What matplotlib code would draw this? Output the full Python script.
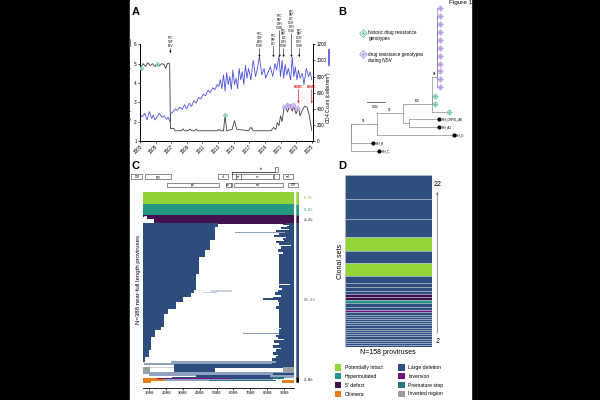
import matplotlib
matplotlib.use("Agg")
import matplotlib.pyplot as plt
from matplotlib.patches import Rectangle

plt.rcParams['font.family'] = ['Liberation Sans', 'DejaVu Sans']

W, H = 600, 400

# ---------------- panel A data ----------------
vl_years = [2003.1, 2003.4, 2003.7, 2004.0, 2004.3, 2004.6, 2004.9, 2005.2, 2005.5, 2005.8,
            2006.1, 2006.3, 2006.5, 2006.8, 2006.9, 2007.3, 2007.5, 2008.3, 2008.5, 2008.7,
            2009.2, 2009.4, 2009.6, 2010.0, 2010.2, 2010.4, 2012.9, 2013.1, 2013.3, 2013.7,
            2013.9, 2014.1, 2014.8, 2015.1, 2015.4, 2016.9, 2017.2, 2017.5, 2019.8, 2020.1,
            2020.4, 2020.6, 2020.8, 2021.0, 2021.2, 2021.4, 2021.6, 2021.9, 2022.2, 2022.5,
            2022.7, 2023.0, 2023.3, 2023.5, 2023.8, 2024.1, 2024.4, 2024.7, 2025.0]
vl_log = [4.8, 5.0, 4.85, 5.05, 4.9, 5.0, 4.85, 4.97, 4.9, 5.0,
          4.95, 4.75, 5.0, 5.0, 1.65, 1.65, 1.53, 1.53, 1.63, 1.53,
          1.53, 1.62, 1.53, 1.53, 1.62, 1.53, 1.53, 1.6, 1.53, 1.53,
          2.35, 1.53, 1.6, 2.05, 1.6, 1.53, 1.71, 1.53, 1.53, 1.7,
          1.6, 1.95, 1.8, 2.3, 2.0, 2.6, 2.8, 2.5, 2.85, 2.55,
          2.8, 2.4, 2.75, 2.3, 2.6, 2.8, 2.75, 2.3, 1.55]

cd4_years = [2003.1, 2003.3, 2003.6, 2003.9, 2004.2, 2004.5, 2004.7, 2004.9, 2005.2, 2005.5,
             2005.8, 2006.1, 2006.4, 2006.6, 2006.85, 2006.95, 2007.2, 2007.5, 2007.8, 2008.1,
             2008.4, 2008.7, 2009.0, 2009.3, 2009.6, 2009.9, 2010.2, 2010.5, 2010.8, 2011.1,
             2011.4, 2011.7, 2012.0, 2012.3, 2012.6, 2012.9, 2013.1, 2013.3, 2013.5, 2013.7,
             2013.9, 2014.1, 2014.3, 2014.5, 2014.7, 2014.9, 2015.1, 2015.3, 2015.5, 2015.7,
             2015.9, 2016.1, 2016.3, 2016.5, 2016.7, 2016.9, 2017.2, 2017.5, 2017.8, 2018.0,
             2018.3, 2018.6, 2018.9, 2019.1, 2019.4, 2019.7, 2020.0, 2020.3, 2020.5, 2020.8,
             2021.0, 2021.2, 2021.4, 2021.6, 2021.8, 2022.0, 2022.3, 2022.5, 2022.7, 2022.9,
             2023.1, 2023.3, 2023.5, 2023.8, 2024.0, 2024.3, 2024.6, 2024.8, 2025.0]
cd4_count = [320, 302, 343, 261, 364, 281, 323, 261, 302, 343,
             294, 314, 269, 294, 240, 343, 360, 400, 380, 420,
             390, 450, 400, 470, 430, 500, 470, 540, 520, 580,
             560, 630, 600, 660, 640, 700, 680, 760, 650, 820,
             620, 850, 700, 800, 640, 880, 700, 780, 650, 900,
             760, 860, 700, 940, 780, 900, 760, 1000, 800, 880,
             1050, 820, 900, 780, 850, 920, 800, 960, 880, 1050,
             800, 1000, 780, 950, 820, 900, 760, 1040, 800, 920,
             760, 880, 780, 840, 700, 900, 800, 860, 760]

hist_years = [2003.1, 2005.2, 2013.9]
hist_vl = [4.8, 4.97, 2.35]
nsv_years = [2021.5, 2021.85, 2022.25, 2022.6, 2023.1]
nsv_vl = [2.78, 2.85, 2.8, 2.85, 2.7]

drug_years = [2006.9, 2018.3, 2020.1, 2020.9, 2021.4, 2022.4, 2023.4]
drug_labels = ["FTC\nTDF\nEFV", "FTC\nTDF\nEVG\nCOBI", "FTC\nTAF\nBIC",
               "FTC\nTAF\nDRV\nCOBI", "FTC\nTAF\nBIC\nDRV\nCOBI",
               "FTC\nTAF\nBIC\nDOR\nDRV\nCOBI", "FTC\nTAF\nDOR\nDRV\nCOBI"]
drug_label_base = [5.78, 5.78, 5.89, 6.71, 5.78, 6.56, 5.78]
drug_arrow_tip = [5.55, 5.34, 5.34, 5.34, 5.34, 5.34, 5.34]
pbmc_years = [2023.3, 2025.0]

# ---------------- panel B data (tree) ----------------
# name: (parent, distance from root, row)
tree_nodes = {
    'root': (None, 0.0, 14.65),
    'n1': ('root', 0.028, 14.65),
    'Ref_B': ('root', 0.024, 17),
    'Ref_C': ('root', 0.031, 18),
    'n2': ('n1', 0.057, 13.27),
    'Ref_D': ('n1', 0.112, 16),
    'n3': ('n2', 0.088, 12.1),
    'n5': ('n2', 0.063, 14.5),
    'Ref_CRF01_AE': ('n5', 0.096, 14),
    'Ref_A1': ('n5', 0.096, 15),
    'hist1': ('n3', 0.092, 11.1),
    'hist2': ('n3', 0.092, 12.1),
    'hist3': ('n3', 0.107, 13.06),
    'n4': ('n3', 0.0935, 8.65),
    'nsv1': ('n4', 0.0975, 0), 'nsv2': ('n4', 0.0975, 1), 'nsv3': ('n4', 0.0975, 2),
    'nsv4': ('n4', 0.0975, 3), 'nsv5': ('n4', 0.0975, 4), 'nsv6': ('n4', 0.0975, 5),
    'nsv7': ('n4', 0.0975, 6), 'nsv8': ('n4', 0.0975, 7), 'nsv9': ('n4', 0.0975, 8),
    'nsv10': ('n4', 0.0975, 9), 'nsv11': ('n4', 0.0975, 10),
}
ref_leaves = ['Ref_CRF01_AE', 'Ref_A1', 'Ref_D', 'Ref_B', 'Ref_C']
hist_leaves = ['hist1', 'hist2', 'hist3']
nsv_leaves = ['nsv%d' % i for i in range(1, 12)]
bootstrap = {'n1': '99', 'n2': '99', 'n3': '100', 'n4': '94'}

# ---------------- panel C data ----------------
genes_row2 = [("LTR", 1, 634), ("gag", 790, 2292), ("vif", 5041, 5619), ("", 5860, 6060),
              ("tat", 6062, 6400), ("rev", 6400, 8250), ("", 8320, 8590), ("nef", 8797, 9417)]
genes_row3 = [("pol", 2085, 5096), ("vpr", 5500, 5780), ("", 5800, 5870),
              ("env", 5950, 8795), ("LTR", 9086, 9719)]
tat_exon2 = (8380, 8530)

GEN_START, GEN_END = 646, 9611
n_intact = 27
n_hyper = 21
five_prime_groups = [(2, 646), (4, 900), (11, 1330)]   # rows, end of 5' deletion
# rows, deletion start, deletion end
large_del = [
    (2, 5050, 9150), (1, 5050, 8950), (2, 5050, 9300), (1, 5050, 9450),
    (3, 4850, 9200), (2, 4850, 8860), (4, 4850, 9350), (2, 4850, 8560), (3, 4850, 9060),
    (2, 4850, 8760), (3, 4850, 9450), (2, 4850, 8460), (3, 4850, 9150), (3, 4850, 8960),
    (3, 4600, 9000), (2, 4600, 8560), (3, 4600, 9250), (2, 4600, 8760), (4, 4600, 9450),
    (3, 4600, 8860), (3, 4600, 9100),
    (3, 4300, 8660), (4, 4300, 9300), (3, 4300, 8960), (4, 4300, 8760),
    (8, 3950, 8760), (2, 3950, 9150), (6, 3950, 8760), (3, 3950, 9350), (9, 3950, 8760),
    (2, 3950, 8960), (4, 3950, 8760),
    (5, 3770, 8760), (2, 3770, 9250), (7, 3770, 8760), (2, 3770, 9050), (6, 3770, 8760),
    (3, 3770, 9400), (5, 3770, 8760), (4, 3770, 8900),
    (2, 3600, 9150), (2, 3600, 8660), (2, 3600, 9400),
    (3, 3420, 8500), (2, 3420, 9300), (2, 3420, 8860),
    (3, 2950, 9000), (2, 2950, 8400), (1, 2950, 7770), (2, 2950, 9400), (2, 2950, 8660),
    (4, 2530, 8760), (3, 2530, 9100), (4, 2530, 8760), (3, 2530, 8560),
    (4, 2110, 8760), (2, 2110, 9000), (4, 2110, 8760),
    (8, 1870, 8760), (2, 1870, 9150), (7, 1870, 8760), (3, 1870, 8900), (7, 1870, 8760),
    (3, 1640, 8760), (2, 1640, 9250), (2, 1640, 8860),
    (5, 1290, 8760), (2, 1290, 9050), (4, 1290, 8760), (3, 1290, 8560),
    (4, 1100, 8660), (3, 1100, 9000), (4, 1100, 8460), (2, 1100, 9350), (5, 1100, 8760),
    (3, 1100, 8360), (4, 1100, 8860), (2, 1100, 9150),
    (3, 940, 8560), (2, 940, 8860), (4, 940, 8360), (2, 940, 9250), (2, 940, 8660),
    (3, 690, 8560), (2, 690, 9000), (3, 690, 8300), (3, 690, 8760),
]
# large deletions with extra internal pieces: rows, [(start, end, colour key)]
large_del_complex = [
    (3, [(2300, 8560, 'light'), (8560, 9611, 'ld')]),
    (3, [(700, 8300, 'light'), (8300, 9611, 'ld')]),
    (5, [(2500, 9611, 'ld')]),
    (1, [(1040, 2526, 'pale')]),
    (9, [(646, 1040, 'invreg'), (2526, 4900, 'ld'), (8960, 9611, 'invreg')]),
    (2, [(646, 9611, 'light')]),
    (5, [(1000, 8400, 'light'), (8400, 9611, 'ld')]),
    (3, [(3800, 8200, 'ld'), (8200, 9611, 'light')]),
]
other_rows = [
    (2, [(2400, 8270, 'ld'), (8270, 8960, 'stop')]),
    (2, [(646, 1500, 'chim'), (1500, 5800, 'inv')]),
    (3, [(646, 1900, 'chim'), (1900, 8300, 'light')]),
    (1, [(4600, 8500, 'stop')]),
    (3, [(646, 1100, 'chim'), (8900, 9611, 'chim')]),
]
# row index, start, end, colour key
extra_segments = [(50, 700, 1200, 'pale'), (83, 6100, 9550, 'light'),
                  (202, 4700, 5890, 'pale'), (205, 4200, 5000, 'pale'),
                  (288, 6600, 9550, 'light')]
pct_labels = ["6.9%", "5.4%", "4.4%", "80.5%", "2.8%"]

# ---------------- panel D data ----------------
clone_sizes = [22, 18, 17, 13, 11, 12, 6, 4, 3, 3, 3, 3, 2, 4, 3, 2,
               2, 2, 2, 2, 2, 2, 2, 2, 2, 2, 2, 2, 2, 2, 2, 2]
clone_types = ['ld', 'ld', 'ld', 'intact', 'ld', 'intact', 'ld', 'ld', 'ld', 'ld',
               '5def', '5def', 'hyper', 'ld', 'ld', 'inv',
               'ld', 'ld', 'ld', 'ld', 'ld', 'ld', 'ld', 'ld',
               'ld', 'ld', 'ld', 'ld', 'ld', 'ld', 'ld', 'ld']

legend_col1 = [('intact', 'Potentially intact'), ('hyper', 'Hypermutated'),
               ('5def', "5' defect"), ('chim', 'Chimera')]
legend_col2 = [('ld', 'Large deletion'), ('inv', 'Inversion'),
               ('stop', 'Premature stop'), ('invreg', 'Inverted region')]

COL = {'intact': '#93d43a', 'hyper': '#23977f', '5def': '#43104f', 'ld': '#2e4f80',
       'inv': '#73127f', 'stop': '#2b7383', 'chim': '#e3801c', 'invreg': '#9d9d9d',
       'light': '#8ea2c0', 'pale': '#c9d2de'}

fig = plt.figure(figsize=(6, 4), dpi=100, facecolor='black')
fig.patches.append(Rectangle((130 / W, 0), 341 / W, 1, transform=fig.transFigure,
                             color='white', zorder=-10))


def px_axes(x0, y0, x1, y1):
    return fig.add_axes([x0 / W, 1 - y1 / H, (x1 - x0) / W, (y1 - y0) / H])


def ftext(px, py, s, **kw):
    return fig.text(px / W, 1 - py / H, s, **kw)


def fbox(px, py, w, h, **kw):
    fig.patches.append(Rectangle((px / W, 1 - (py + h) / H), w / W, h / H,
                                 transform=fig.transFigure, **kw))


def dr_marker(ax, x, y, edge, face, ms):
    ax.plot(x, y, ls='', marker='D', ms=ms, mfc=face, mec=edge, mew=0.4, zorder=5)
    ax.plot(x, y, ls='', marker='+', ms=ms * 0.8, mec=edge, mew=0.4, zorder=6)


TEAL_M, TEAL_F = '#4fb0a6', '#d6efec'
PURP_M, PURP_F = '#a57ddf', '#e6dcf6'

# ================= A =================
ftext(135.5, 12, 'A', fontsize=8, fontweight='bold', ha='center', va='center')
axA = px_axes(140, 44.3, 313.3, 141)
axA2 = axA.twinx()
axA2.plot(cd4_years, cd4_count, color='#4a50e0', lw=0.6)
axA.plot(vl_years, vl_log, color='#404040', lw=0.6)
axA.set_zorder(axA2.get_zorder() + 1)
axA.patch.set_visible(False)
dr_marker(axA, hist_years, hist_vl, TEAL_M, TEAL_F, 2.3)
dr_marker(axA, nsv_years, nsv_vl, PURP_M, PURP_F, 2.6)
axA.set_xlim(2003, 2025.2)
axA.set_ylim(1, 6)
axA2.set_ylim(0, 1200)
axA.set_yticks(range(1, 7))
axA2.set_yticks(range(0, 1201, 200))
axA.set_xticks(range(2003, 2026, 2))
axA.set_xticklabels([str(y) for y in range(2003, 2026, 2)], rotation=45, ha='right',
                    rotation_mode='anchor')
for a in (axA, axA2):
    a.tick_params(labelsize=3.3, length=1.5, width=0.5, pad=0.8)
    a.spines['top'].set_visible(False)
    for s in a.spines.values():
        s.set_linewidth(0.6)
axA.text(-0.06, 0.55, r'Log$_{10}$ plasma HIV RNA copies/mL', rotation=90, fontsize=3.5,
         transform=axA.transAxes, ha='center', va='center')
axA.plot([-0.06, -0.06], [0.98, 1.045], transform=axA.transAxes, color='#555555',
         lw=1.2, clip_on=False)
axA.text(1.09, 0.455, 'CD4 Count (cells/mm$^3$)', rotation=90, fontsize=3.6,
         transform=axA.transAxes, ha='center', va='center')
axA.plot([1.09, 1.09], [0.785, 0.94], transform=axA.transAxes, color='#4a50e0',
         lw=1.2, clip_on=False)
for yr, lab, base, tip in zip(drug_years, drug_labels, drug_label_base, drug_arrow_tip):
    axA.text(yr, base + 0.03, lab, fontsize=2.1, ha='center', va='bottom',
             linespacing=0.95, clip_on=False)
    axA.annotate('', xy=(yr, tip), xytext=(yr, base), annotation_clip=False,
                 arrowprops=dict(arrowstyle='-|>', color='k', lw=0.4, mutation_scale=2.5,
                                 shrinkA=0, shrinkB=0))
for yr in pbmc_years:
    axA.text(yr, 3.68, 'PBMC', fontsize=2.3, color='#e0201b', ha='center', va='bottom',
             fontweight='bold', clip_on=False)
    axA.annotate('', xy=(yr, 2.95), xytext=(yr, 3.66), annotation_clip=False,
                 arrowprops=dict(arrowstyle='-|>', color='#e0201b', lw=0.5,
                                 mutation_scale=2.5, shrinkA=0, shrinkB=0))

# ================= B =================
ftext(342, 12, 'B', fontsize=8, fontweight='bold', ha='center', va='center')
axB = px_axes(340, 0, 470, 160)
axB.set_xlim(-0.012, 0.1298)
axB.set_ylim(19.14, -1.0)
axB.axis('off')
for name, (parent, x, y) in tree_nodes.items():
    if parent is None:
        continue
    px_, py_ = tree_nodes[parent][1], tree_nodes[parent][2]
    axB.plot([px_, x], [y, y], color='#8c8c8c', lw=0.5)
    axB.plot([px_, px_], [py_, y], color='#8c8c8c', lw=0.5)
for name, lab in bootstrap.items():
    parent, x, y = tree_nodes[name]
    axB.text((tree_nodes[parent][1] + x) / 2, y - 0.12, lab, fontsize=2.2,
             ha='center', va='bottom')
for name in ref_leaves:
    _, x, y = tree_nodes[name]
    axB.plot(x, y, 'o', ms=2.0, color='black')
    axB.text(x + 0.0025, y, name, fontsize=2.2, va='center')
dr_marker(axB, [tree_nodes[n][1] for n in hist_leaves], [tree_nodes[n][2] for n in hist_leaves],
          TEAL_M, TEAL_F, 2.8)
dr_marker(axB, [tree_nodes[n][1] for n in nsv_leaves], [tree_nodes[n][2] for n in nsv_leaves],
          PURP_M, PURP_F, 2.8)
dr_marker(axB, [0.0129], [3.1], TEAL_M, TEAL_F, 4.3)
dr_marker(axB, [0.0129], [5.8], PURP_M, PURP_F, 4.3)
axB.text(0.019, 3.48, 'historic drug resistance\ngenotypes', fontsize=3.3, va='center',
         linespacing=1.1)
axB.text(0.019, 6.24, 'drug resistance genotypes\nduring NSV', fontsize=3.3, va='center',
         linespacing=1.1)
axB.plot([0.017, 0.037], [11.87, 11.87], color='#555555', lw=0.6)
axB.text(0.027, 12.5, '0.02', fontsize=2.5, ha='center', va='center')
axB.text(0.1067, -0.68, 'Figure 1', fontsize=4.6, va='center', clip_on=False)

# ================= C =================
ftext(136, 165.5, 'C', fontsize=8, fontweight='bold', ha='center', va='center')
axG = px_axes(130, 163, 300, 190)
axG.set_xlim(-80, 9809)
axG.set_ylim(190, 163)
axG.axis('off')
for row_y, genes in ((174.3, genes_row2), (182.7, genes_row3)):
    for lab, a, b in genes:
        axG.add_patch(Rectangle((a, row_y), b - a, 4.6, fc='white', ec='#333333', lw=0.4))
        if lab:
            axG.text((a + b) / 2, row_y + 2.3, lab, fontsize=2.0, ha='center', va='center')
axG.add_patch(Rectangle((tat_exon2[0], 167), tat_exon2[1] - tat_exon2[0], 5,
                        fc='white', ec='#333333', lw=0.4))
axG.plot([5860, tat_exon2[0]], [172.3, 172.3], color='#333333', lw=0.6)
axG.plot([5860, 5860], [172.3, 174.3], color='#333333', lw=0.6)
axG.text(7580, 168.8, 'tat', fontsize=2.0, ha='center', va='center')

# build provirus rows
c_rows = []
for _ in range(n_intact):
    c_rows.append([(GEN_START, GEN_END, 'intact')])
for _ in range(n_hyper):
    c_rows.append([(GEN_START, GEN_END, 'hyper')])
for n, dend in five_prime_groups:
    for _ in range(n):
        c_rows.append([(dend, GEN_END, '5def')])
for n, s, e in large_del:
    for _ in range(n):
        c_rows.append([(GEN_START, s, 'ld'), (e, GEN_END, 'ld')])
for n, segs in large_del_complex:
    for _ in range(n):
        c_rows.append(list(segs))
for n, segs in other_rows:
    for _ in range(n):
        c_rows.append(list(segs))
for r, a, b, c in extra_segments:
    c_rows[r].append((a, b, c))
n_total = len(c_rows)
n_5def = sum(n for n, _ in five_prime_groups)
n_ld = sum(n for n, _, _ in large_del) + sum(n for n, _ in large_del_complex)
n_other = sum(n for n, _ in other_rows)

C_COL = dict(COL, ld='#2c4d7e', intact='#8fd136')
bar_y, bar_left, bar_w, bar_c = [], [], [], []
for i, segs in enumerate(c_rows):
    for a, b, c in segs:
        bar_y.append(i)
        bar_left.append(a)
        bar_w.append(b - a)
        bar_c.append(C_COL[c])

axC = px_axes(143.3, 191.7, 294.3, 382.7)
axC.barh(bar_y, bar_w, left=bar_left, height=1.0, color=bar_c, linewidth=0, snap=False,
         antialiased=False)
axC.set_xlim(GEN_START, GEN_END)
axC.set_ylim(n_total, 0)
axC.set_yticks([])
for s in ('top', 'right', 'left'):
    axC.spines[s].set_visible(False)
axC.spines['bottom'].set_position(('outward', 3.6))
axC.spines['bottom'].set_linewidth(0.6)
axC.set_xticks(range(1000, 10000, 1000))
axC.tick_params(axis='x', labelsize=2.9, length=1.5, width=0.5, pad=1)
for t in axC.get_xticklabels():
    t.set_family('DejaVu Sans Mono')

counts = [n_intact, n_hyper, n_5def, n_ld, n_other]
side_cols = [COL['intact'], COL['hyper'], COL['5def'], COL['ld'], 'black']
pct_cols = ['#8fcf3a', '#23977f', '#43104f', '#4a6a9a', 'black']
axS = px_axes(296.3, 191.7, 299, 382.7)
start = 0
for n, c, lab, pc in zip(counts, side_cols, pct_labels, pct_cols):
    axS.barh(start + n / 2, 1, height=n, color=c, linewidth=0, snap=False)
    axC.text(10190, start + n / 2, lab, fontsize=2.9, color=pc, va='center',
             family='DejaVu Sans Mono', clip_on=False)
    start += n
axS.set_xlim(0, 1)
axS.set_ylim(n_total, 0)
axS.axis('off')
ftext(138.3, 280, 'N=%d near-full length proviruses' % n_total, rotation=90,
      fontsize=4.3, ha='center', va='center')

# ================= D =================
ftext(342, 165.5, 'D', fontsize=8, fontweight='bold', ha='center', va='center')
axD = px_axes(345, 175, 431.7, 347.3)
n_clonal = sum(clone_sizes)
cum = 0
for size, t in zip(clone_sizes, clone_types):
    axD.barh(cum + size / 2, 1, height=size, color=COL[t], edgecolor='#b4c0d4', linewidth=0.4)
    cum += size
axD.set_xlim(0, 1)
axD.set_ylim(n_clonal, 0)
axD.axis('off')
axD.annotate('', xy=(1.065, 15.3), xytext=(1.065, 145), xycoords=('axes fraction', 'data'),
             textcoords=('axes fraction', 'data'), annotation_clip=False,
             arrowprops=dict(arrowstyle='-|>', color='#7a7a7a', lw=0.6, mutation_scale=3,
                             shrinkA=0, shrinkB=0))
axD.text(1.065, 8.9, str(max(clone_sizes)), fontsize=5, ha='center', va='center',
         transform=axD.get_yaxis_transform(), clip_on=False)
axD.text(1.065, 153, str(min(clone_sizes)), fontsize=5, ha='center', va='center',
         transform=axD.get_yaxis_transform(), clip_on=False)
ftext(341, 261, 'Clonal sets', rotation=90, fontsize=5, ha='center', va='center')
ftext(388, 352.7, 'N=%d proviruses' % n_clonal, fontsize=5, ha='center', va='center')

# legend
for col_x, items in ((335, legend_col1), (398.3, legend_col2)):
    for k, (key, lab) in enumerate(items):
        cy = 367.3 + k * 8.9
        fbox(col_x, cy - 3.2, 6.4, 6.4, fc=COL[key], ec='none')
        ftext(col_x + 10, cy, lab, fontsize=3.7, va='center')

fig.savefig('out.png', dpi=100, facecolor=fig.get_facecolor())
